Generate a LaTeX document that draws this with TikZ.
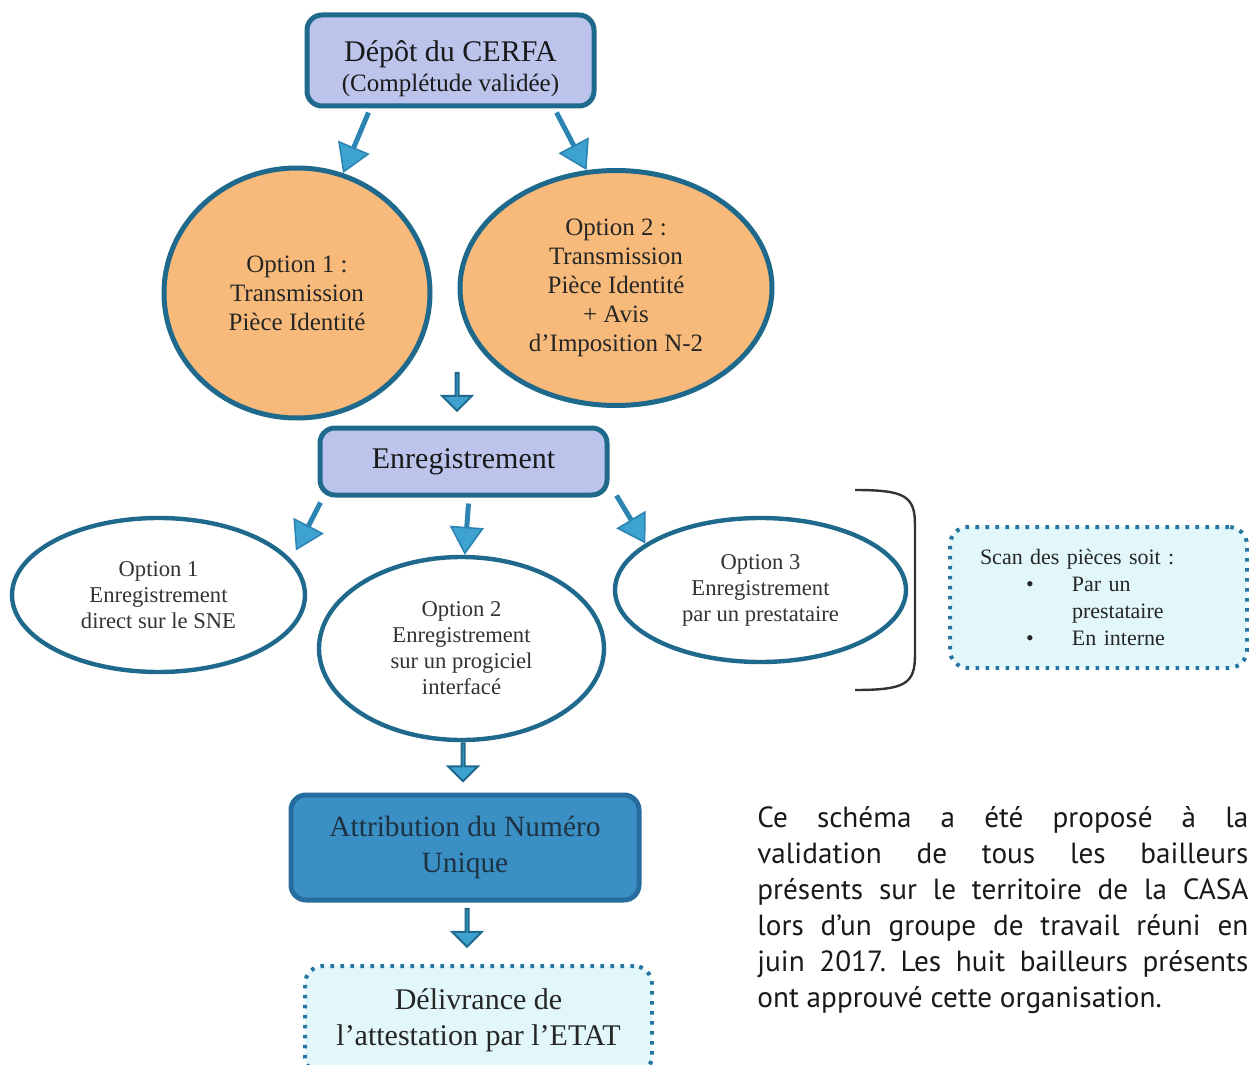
\documentclass[tikz,border=0pt]{standalone}
\usepackage{fontspec}
\setmainfont{Liberation Serif}
\newfontfamily\notefont{PT Sans}
\usetikzlibrary{shapes.geometric,shapes.arrows,arrows.meta,calc}
\hbadness=10000
\definecolor{edgeblue}{RGB}{31,106,140}
\definecolor{lavande}{RGB}{188,196,236}
\definecolor{orangeclair}{RGB}{248,186,122}
\definecolor{arrowblue}{RGB}{44,132,178}
\definecolor{arrowfill}{RGB}{62,162,208}
\definecolor{attrfill}{RGB}{58,143,196}
\definecolor{attredge}{RGB}{38,108,156}
\definecolor{attrtext}{RGB}{30,50,66}
\definecolor{paleblue}{RGB}{226,247,250}
\definecolor{dotblue}{RGB}{36,118,160}
\tikzstyle{etapebox}=[draw=edgeblue, line width=2.5pt, rounded corners=7.5pt, fill=lavande, align=center, inner sep=0pt, text=black!90]
\tikzstyle{choixovale}=[ellipse, draw=edgeblue, line width=2.5pt, fill=orangeclair, align=center, inner sep=0pt, font=\fontsize{12.5}{14.5}\selectfont, text=black!85]
\tikzstyle{saisieovale}=[ellipse, draw=edgeblue, line width=2.2pt, fill=white, align=center, inner sep=0pt, font=\fontsize{11.3}{13}\selectfont, text=black!80]
\tikzstyle{pointille}=[draw=dotblue, line width=2pt, dash pattern=on 1.8pt off 3.2pt, rounded corners=9pt, fill=paleblue, inner sep=0pt]
\tikzstyle{fleche}=[draw=arrowblue, line width=2.5pt, -{Triangle[width=17pt,length=14pt,fill=arrowfill,line width=0.8pt]}]
\tikzstyle{blocfleche}=[single arrow, draw=edgeblue, fill=arrowfill, line width=1pt, shape border rotate=270, minimum height=19pt, minimum width=15pt, single arrow head extend=4.5pt, inner sep=0pt]

\begin{document}
\begin{tikzpicture}[x=0.5pt, y=-0.5pt]
  \useasboundingbox (0,0) rectangle (1249,1065);
  \clip (0,0) rectangle (1249,1065);

  \node[etapebox, minimum width=143.5pt, minimum height=45.5pt] (cerfa) at (450.5,60.5)
    {{\fontsize{15}{15.5}\selectfont\rule{0pt}{19pt}Dépôt du CERFA}\\[3pt]{\fontsize{12.5}{15.5}\selectfont (Complétude validée)}};

  \node[choixovale, minimum width=133pt, minimum height=125pt] (opt1) at (297,293)
    {Option 1 :\\Transmission\\Pièce Identité};
  \node[choixovale, minimum width=156pt, minimum height=117.5pt] (opt2) at (616,288)
    {Option 2 :\\Transmission\\Pièce Identité\\+ Avis\\d’Imposition N-2};

  \draw[fleche] ($(cerfa.south)+(-82,4)$) -- (opt1.69);
  \draw[fleche] ($(cerfa.south)+(106,4)$) -- (opt2.104);

  \node[blocfleche] (flecheA) at (457,391) {};

  \node[etapebox, minimum width=143.5pt, minimum height=33.5pt, font=\fontsize{15}{16}\selectfont] (enreg) at (463.5,461.5) {Enregistrement};

  \node[saisieovale, minimum width=146.5pt, minimum height=77pt] (reg1) at (158.5,595)
    {Option 1\\Enregistrement\\direct sur le SNE};
  \node[saisieovale, minimum width=142.5pt, minimum height=91.5pt] (reg2) at (461.5,648.5)
    {Option 2\\Enregistrement\\sur un progiciel\\interfacé};
  \node[saisieovale, minimum width=145.5pt, minimum height=72pt] (reg3) at (760.5,590)
    {Option 3\\Enregistrement\\par un prestataire};

  \draw[fleche, shorten >=5pt] ($(enreg.south)+(-143,5)$) -- (reg1.15);
  \draw[fleche] ($(enreg.south)+(5,6)$) -- (reg2.88);
  \draw[fleche] ($(enreg.south east)+(7,-2)$) -- (reg3.158);

  \draw[line width=1.2pt, black!80] (855,490) .. controls (905,490) and (915,496) .. (915,525)
    -- (915,655) .. controls (915,684) and (905,690) .. (855,690);

  \node[pointille, minimum width=148.5pt, minimum height=70.5pt, text width=118.5pt, align=left,
    font=\fontsize{11}{13.5}\selectfont, text=black!85] (scan) at (1098.5,597.5)
    {Scan des pièces soit :\\
     \hspace*{23pt}\makebox[23pt][l]{\textbullet}Par un\\
     \hspace*{46pt}prestataire\\
     \hspace*{23pt}\makebox[23pt][l]{\textbullet}En interne};

  \node[blocfleche] (flecheB) at (463,761.5) {};

  \node[draw=attredge, line width=2.5pt, rounded corners=7.5pt, fill=attrfill, text=attrtext, align=center,
    inner sep=0pt, minimum width=174pt, minimum height=52.5pt, font=\fontsize{14.7}{18}\selectfont] (attrib) at (465,847.5)
    {Attribution du Numéro\\Unique};

  \node[blocfleche] (flecheC) at (467,927) {};

  \node[pointille, minimum width=173.5pt, minimum height=54pt, align=center, text=black!85,
    font=\fontsize{15}{18}\selectfont] (delivr) at (478.5,1020)
    {Délivrance de\\l’attestation par l’ETAT};

  \node[anchor=north west, inner sep=0pt, text width=245.5pt, align=justify,
    font=\notefont\fontsize{14.6}{18}\selectfont\frenchspacing, text=black!90] (note) at (757,806)
    {Ce schéma a été proposé à la\linebreak
     validation de tous les bailleurs\linebreak
     présents sur le territoire de la CASA\linebreak
     lors d’un groupe de travail réuni en\linebreak
     juin 2017. Les huit bailleurs présents\linebreak
     ont approuvé cette organisation.};
\end{tikzpicture}
\end{document}
